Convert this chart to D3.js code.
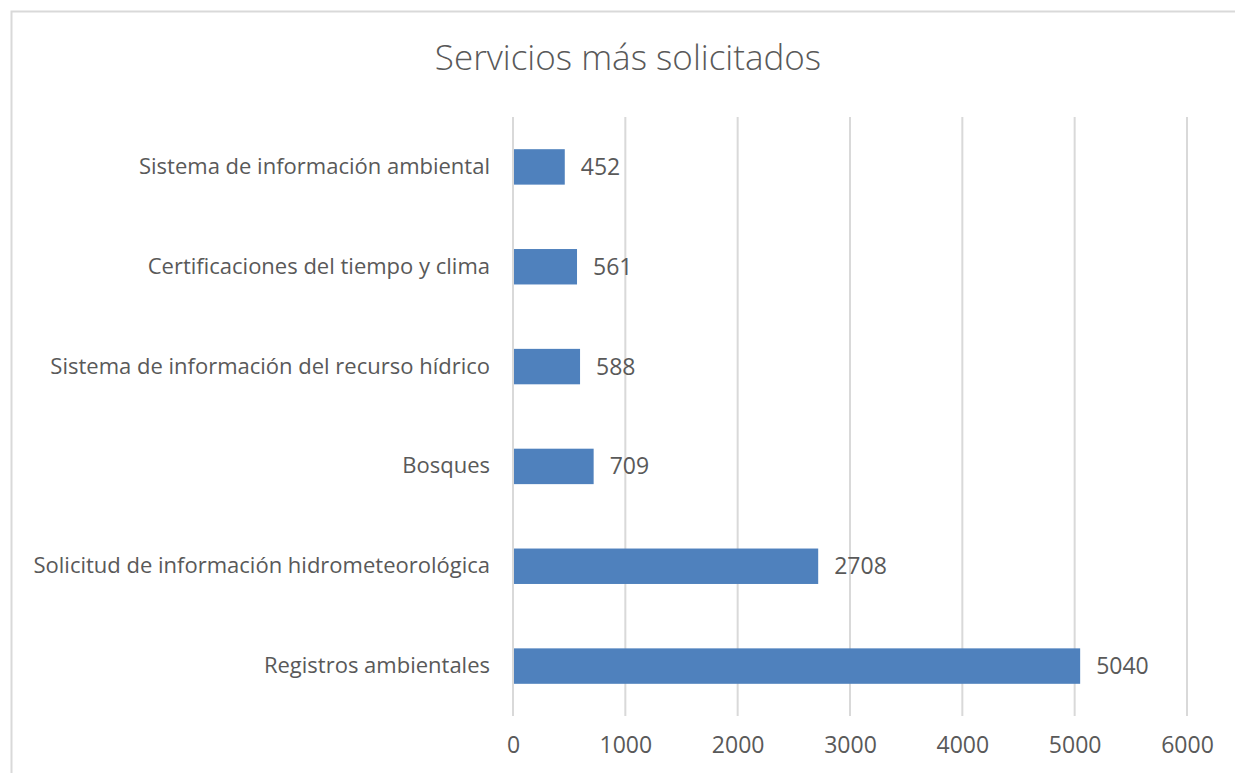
<!DOCTYPE html>
<html>
<head>
<meta charset="utf-8">
<script src="https://cdn.jsdelivr.net/npm/d3@7"></script>
<style>
  html, body { margin: 0; padding: 0; background: #fff; overflow: hidden; }
  #chart { width: 1235px; height: 773px; }
  text { font-family: "Open Sans", "Noto Sans", sans-serif; fill: #595959; }
</style>
</head>
<body>
<div id="chart"></div>
<script>
// Chart data
const categories = [
    'Sistema de información ambiental',
    'Certificaciones del tiempo y clima',
    'Sistema de información del recurso hídrico',
    'Bosques',
    'Solicitud de información hidrometeorológica',
    'Registros ambientales'
];
const values = [452, 561, 588, 709, 2708, 5040];
const xTicks = [0, 1000, 2000, 3000, 4000, 5000, 6000];
const chartTitle = 'Servicios más solicitados';

document.addEventListener('DOMContentLoaded', function() {
    const W = 1235, H = 773;
    const margin = { top: 117, right: 48, bottom: 57, left: 513 };
    const width = W - margin.left - margin.right;
    const height = H - margin.top - margin.bottom;

    const svg = d3.select('#chart')
        .append('svg')
        .attr('width', W)
        .attr('height', H);

    // Outer chart frame (runs off the right/bottom edge)
    svg.append('rect')
        .attr('x', 11.5)
        .attr('y', 11.5)
        .attr('width', W + 20)
        .attr('height', H + 20)
        .attr('fill', 'none')
        .attr('stroke', '#d9d9d9')
        .attr('stroke-width', 2);

    // Title
    svg.append('text')
        .attr('x', 628)
        .attr('y', 70)
        .attr('text-anchor', 'middle')
        .style('font-size', '35px')
        .style('font-weight', 300)
        .text(chartTitle);

    const g = svg.append('g')
        .attr('transform', `translate(${margin.left}, ${margin.top})`);

    const x = d3.scaleLinear()
        .domain([0, 6000])
        .range([0, width]);

    const y = d3.scaleBand()
        .domain(categories)
        .range([0, height])
        .paddingInner(0.645)
        .paddingOuter(0.3225);

    // Vertical gridlines
    g.selectAll('.grid')
        .data(xTicks)
        .enter()
        .append('line')
        .attr('class', 'grid')
        .attr('x1', d => x(d))
        .attr('x2', d => x(d))
        .attr('y1', 0)
        .attr('y2', height)
        .attr('stroke', '#d9d9d9')
        .attr('stroke-width', 2);

    // X axis labels
    const xAxis = g.append('g')
        .attr('transform', `translate(0, ${height})`)
        .call(d3.axisBottom(x).tickValues(xTicks).tickSize(0).tickPadding(21).tickFormat(d3.format('d')));
    xAxis.select('.domain').remove();
    xAxis.selectAll('text')
        .style('font-size', '23px')
        .style('font-family', '"Open Sans", sans-serif')
        .attr('fill', '#595959');

    // Y axis labels
    const yAxis = g.append('g')
        .call(d3.axisLeft(y).tickSize(0).tickPadding(23));
    yAxis.select('.domain').remove();
    yAxis.selectAll('text')
        .style('font-size', '22px')
        .style('font-family', '"Open Sans", sans-serif')
        .attr('fill', '#595959');

    const rows = categories.map((c, i) => ({ name: c, value: values[i] }));

    // Bars
    g.selectAll('.bar')
        .data(rows)
        .enter()
        .append('rect')
        .attr('class', 'bar')
        .attr('x', x(0) + 1)
        .attr('y', d => y(d.name))
        .attr('width', d => x(d.value) - x(0))
        .attr('height', y.bandwidth())
        .attr('fill', '#4f81bd');

    // Value labels
    g.selectAll('.value-label')
        .data(rows)
        .enter()
        .append('text')
        .attr('class', 'value-label')
        .attr('x', d => x(d.value) + 17)
        .attr('y', d => y(d.name) + y.bandwidth() / 2)
        .attr('dy', '0.35em')
        .style('font-size', '23px')
        .text(d => d.value);
});
</script>
</body>
</html>
